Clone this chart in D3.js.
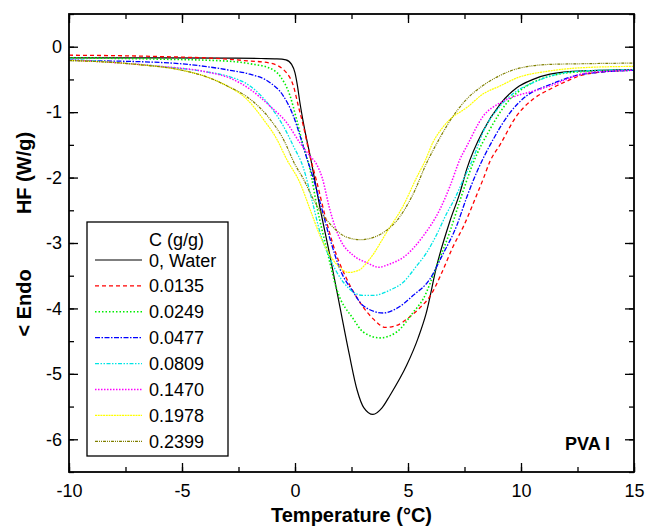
<!DOCTYPE html>
<html><head><meta charset="utf-8">
<script src="https://cdn.jsdelivr.net/npm/d3@7"></script>
<style>body{margin:0;background:#fff}svg{display:block}text{font-family:"Liberation Sans",Arial,sans-serif}</style>
</head><body><div id="chart"></div>
<script>
// ---- data ----
const seriesLabels = ["0, Water","0.0135","0.0249","0.0477","0.0809","0.1470","0.1978","0.2399"];
const legendTitle = "C (g/g)";
const xTicks = [-10,-5,0,5,10,15];
const yTicks = [0,-1,-2,-3,-4,-5,-6];

const water = [[-10,-0.17],[-6,-0.17],[-3,-0.175],[-1.5,-0.18],[-0.8,-0.185],[-0.4,-0.2],[-0.15,-0.27],[0,-0.4],[0.1,-0.58],[0.22,-0.86],[0.37,-1.16],[0.7,-1.72],[1.1,-2.45],[1.55,-3.2],[2.0,-4.0],[2.4,-4.7],[2.75,-5.25],[3.05,-5.52],[3.45,-5.62],[3.85,-5.52],[4.2,-5.33],[4.94,-4.87],[5.45,-4.45],[5.8,-4.08],[6.27,-3.35],[6.86,-2.66],[7.3,-2.23],[7.6,-1.87],[8.33,-1.28],[9.07,-0.88],[9.8,-0.63],[10.54,-0.5],[11.28,-0.42],[12.75,-0.37],[15,-0.35]];
const c0135 = [[-10,-0.13],[-6,-0.15],[-3,-0.19],[-2.3,-0.21],[-1.1,-0.25],[-0.37,-0.4],[-0.07,-0.6],[0.15,-0.91],[0.37,-1.21],[0.66,-1.67],[0.96,-2.06],[1.4,-2.68],[1.84,-3.19],[2.29,-3.55],[2.73,-3.83],[3.0,-3.97],[3.46,-4.16],[4.0,-4.29],[4.5,-4.26],[5.0,-4.15],[5.5,-4.0],[6.0,-3.8],[6.5,-3.45],[7.0,-3.05],[7.45,-2.75],[8.0,-2.3],[8.33,-2.02],[8.63,-1.75],[9.07,-1.5],[9.8,-1.06],[10.54,-0.8],[11.28,-0.65],[12.0,-0.53],[12.75,-0.43],[14.2,-0.37],[15,-0.36]];
const c0249 = [[-10,-0.17],[-6,-0.19],[-3,-0.22],[-2,-0.26],[-1.1,-0.33],[-0.66,-0.45],[-0.22,-0.75],[0.07,-1.11],[0.37,-1.52],[0.66,-1.87],[0.99,-2.48],[1.4,-3.09],[1.84,-3.7],[2.58,-4.16],[3.02,-4.36],[3.76,-4.45],[4.5,-4.36],[5.23,-4.06],[5.68,-3.85],[6.27,-3.35],[6.86,-2.82],[7.3,-2.35],[7.89,-1.77],[8.63,-1.26],[9.37,-0.86],[10.25,-0.6],[11.28,-0.45],[12.75,-0.38],[15,-0.36]];
const c0477 = [[-10,-0.21],[-6,-0.24],[-4,-0.3],[-2.88,-0.36],[-1.99,-0.42],[-1.1,-0.55],[-0.52,-0.75],[-0.07,-1.06],[0.22,-1.36],[0.52,-1.7],[0.8,-2.0],[1.11,-2.38],[1.55,-2.94],[1.99,-3.4],[2.58,-3.75],[3.02,-3.96],[3.91,-4.07],[4.5,-4.0],[5.23,-3.8],[5.97,-3.55],[6.5,-3.2],[7.15,-2.74],[7.6,-2.3],[8.04,-1.92],[8.78,-1.41],[9.51,-1.01],[10.25,-0.75],[11.28,-0.58],[12.75,-0.42],[15,-0.36]];
const c0809 = [[-10,-0.19],[-6,-0.3],[-4,-0.38],[-2.88,-0.46],[-1.99,-0.6],[-1.1,-0.91],[-0.52,-1.21],[-0.07,-1.52],[0.37,-1.85],[0.74,-2.33],[1.11,-2.84],[1.55,-3.24],[2.14,-3.6],[3.0,-3.8],[3.5,-3.8],[4.2,-3.72],[4.79,-3.6],[5.38,-3.35],[5.82,-3.15],[6.27,-2.87],[6.71,-2.55],[7.1,-2.3],[7.45,-2.03],[7.89,-1.7],[8.33,-1.3],[9.07,-0.91],[9.8,-0.68],[10.54,-0.55],[11.28,-0.45],[12.75,-0.37],[15,-0.35]];
const c1470 = [[-10,-0.2],[-6,-0.3],[-4,-0.38],[-2.88,-0.48],[-1.99,-0.65],[-1.1,-0.91],[-0.37,-1.16],[0.22,-1.47],[0.66,-1.67],[0.96,-1.8],[1.2,-2.0],[1.55,-2.5],[1.99,-2.94],[2.58,-3.19],[3.17,-3.3],[3.7,-3.37],[4.2,-3.32],[4.79,-3.22],[5.68,-2.89],[6.42,-2.48],[6.86,-2.13],[7.3,-1.72],[7.6,-1.52],[8.33,-1.06],[9.07,-0.86],[9.8,-0.75],[10.54,-0.68],[11.28,-0.6],[12.01,-0.5],[12.75,-0.41],[14,-0.37],[15,-0.36]];
const c1978 = [[-10,-0.21],[-7,-0.27],[-5,-0.36],[-4,-0.45],[-3,-0.6],[-2.14,-0.8],[-1.4,-1.11],[-0.81,-1.41],[-0.37,-1.72],[0.22,-2.08],[0.66,-2.48],[1.11,-2.89],[1.55,-3.19],[2.0,-3.38],[2.35,-3.45],[2.8,-3.42],[3.32,-3.24],[4.05,-2.84],[4.79,-2.43],[5.38,-2.0],[5.75,-1.75],[6.12,-1.45],[6.5,-1.25],[6.86,-1.11],[7.6,-0.93],[8.33,-0.72],[9.07,-0.6],[9.8,-0.48],[11.28,-0.37],[12.75,-0.32],[15,-0.3]];
const c2399 = [[-10,-0.21],[-7,-0.27],[-5,-0.36],[-4,-0.45],[-3,-0.6],[-1.99,-0.8],[-1.1,-1.11],[-0.52,-1.41],[0.0,-1.8],[0.37,-2.02],[0.81,-2.33],[1.25,-2.58],[1.69,-2.76],[2.28,-2.91],[2.9,-2.95],[3.32,-2.93],[3.91,-2.84],[4.57,-2.63],[5.23,-2.25],[5.82,-1.78],[6.4,-1.4],[6.86,-1.13],[7.6,-0.8],[8.33,-0.59],[9.07,-0.44],[9.8,-0.34],[11.28,-0.27],[12.75,-0.26],[15,-0.25]];
const seriesData = [water,c0135,c0249,c0477,c0809,c1470,c1978,c2399];

// ---- styles ----
const colors = ["#000000","#ff0000","#00ee00","#0000ff","#00e5e5","#ff00ff","#ffff00","#808000"];
const dashes = [null,"4,3","1.5,2","5,1.5,1.5,1.5","4,1.5,1.5,1.5,1.5,1.5","1.5,1.5","2,0.7","3,1,1,1,1,1"];
const widths = [1.2,1.3,1.6,1.3,1.3,1.5,1.2,1.2];

const W=645,H=528, m={l:69,r:11,t:14,b:56};
const svg=d3.select("#chart").append("svg").attr("width",W).attr("height",H);
const x=d3.scaleLinear().domain([-10,15]).range([m.l,W-m.r]);
const y=d3.scaleLinear().domain([-6.5,0.5]).range([H-m.b,m.t]);

svg.append("clipPath").attr("id","clip").append("rect")
  .attr("x",m.l).attr("y",m.t).attr("width",W-m.r-m.l).attr("height",H-m.b-m.t);

const line=d3.line().x(d=>x(d[0])).y(d=>y(d[1])).curve(d3.curveMonotoneX);
const g=svg.append("g").attr("clip-path","url(#clip)");
seriesData.forEach((s,i)=>{
  g.append("path").attr("d",line(s)).attr("fill","none")
   .attr("stroke",colors[i]).attr("stroke-width",widths[i])
   .attr("stroke-dasharray",dashes[i]);
});

// axes (ticks inward)
const fs=18, fmt=d=>String(d);
function ax(gen,tr){return svg.append("g").attr("transform",tr).call(gen);}
const xMinor=d3.range(-10,15.01,2.5), yMinor=d3.range(-6.5,0.51,0.5);
ax(d3.axisBottom(x).tickValues(xTicks).tickSize(-9).tickPadding(12).tickFormat(fmt),`translate(0,${H-m.b})`);
ax(d3.axisBottom(x).tickValues(xMinor).tickSize(-5).tickFormat(""),`translate(0,${H-m.b})`);
ax(d3.axisTop(x).tickValues(xTicks).tickSize(-9).tickFormat(""),`translate(0,${m.t})`);
ax(d3.axisTop(x).tickValues(xMinor).tickSize(-5).tickFormat(""),`translate(0,${m.t})`);
ax(d3.axisLeft(y).tickValues(yTicks).tickSize(-9).tickPadding(7).tickFormat(fmt),`translate(${m.l},0)`);
ax(d3.axisLeft(y).tickValues(yMinor).tickSize(-5).tickFormat(""),`translate(${m.l},0)`);
ax(d3.axisRight(y).tickValues(yTicks).tickSize(-9).tickFormat(""),`translate(${W-m.r},0)`);
ax(d3.axisRight(y).tickValues(yMinor).tickSize(-5).tickFormat(""),`translate(${W-m.r},0)`);
svg.selectAll(".domain").remove();
svg.selectAll(".tick line").attr("stroke","#000").attr("stroke-width",1.3);
svg.selectAll(".tick text").attr("font-size",fs).attr("fill","#000").style("font-family",'"Liberation Sans",Arial,sans-serif');
svg.append("rect").attr("x",m.l).attr("y",m.t).attr("width",W-m.r-m.l).attr("height",H-m.b-m.t)
  .attr("fill","none").attr("stroke","#000").attr("stroke-width",1.8);

// titles
svg.append("text").attr("x",(m.l+W-m.r)/2).attr("y",522).attr("text-anchor","middle")
  .attr("font-size",20).attr("font-weight","bold").text("Temperature (°C)");
svg.append("text").attr("transform","translate(31,173) rotate(-90)").attr("text-anchor","middle")
  .attr("font-size",20).attr("font-weight","bold").text("HF (W/g)");
svg.append("text").attr("transform","translate(31,303) rotate(-90)").attr("text-anchor","middle")
  .attr("font-size",20).attr("font-weight","bold").text("< Endo");
svg.append("text").attr("x",610).attr("y",450).attr("text-anchor","end")
  .attr("font-size",18).attr("font-weight","bold").text("PVA I");

// legend
const lg=svg.append("g");
lg.append("rect").attr("x",87).attr("y",222).attr("width",141).attr("height",234)
  .attr("fill","#fff").attr("stroke","#000").attr("stroke-width",1.3);
lg.append("text").attr("x",149).attr("y",246).attr("font-size",fs).text(legendTitle);
seriesLabels.forEach((lab,i)=>{
  const yy=260+i*25.9;
  lg.append("line").attr("x1",95).attr("x2",142).attr("y1",yy).attr("y2",yy)
    .attr("stroke",colors[i]).attr("stroke-width",widths[i]).attr("stroke-dasharray",dashes[i]);
  lg.append("text").attr("x",149).attr("y",yy+6.5).attr("font-size",fs).text(lab);
});
</script></body></html>
